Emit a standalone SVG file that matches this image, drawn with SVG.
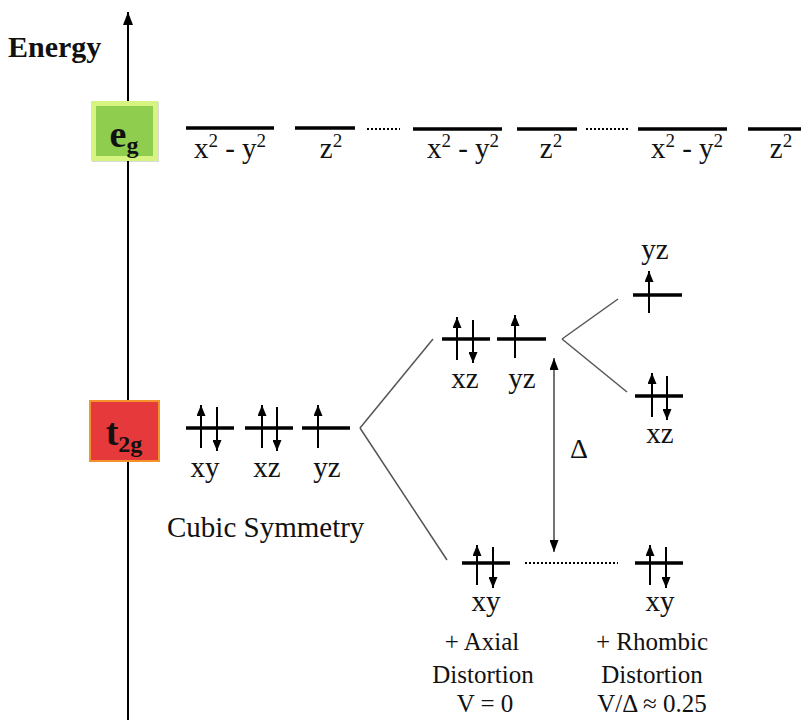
<svg xmlns="http://www.w3.org/2000/svg" width="801" height="720" viewBox="0 0 801 720" font-family="'Liberation Serif', 'Times New Roman', 'DejaVu Serif', serif">
<defs>
<style>
text{font-family:'Liberation Serif','Times New Roman','DejaVu Serif',serif;fill:#111;}
.lab{font-size:29px;text-anchor:middle;}
.sm{font-size:25px;text-anchor:middle;}
.sup{font-size:19px;}
.lvl{stroke:#000;stroke-width:3.5;fill:none;}
.spin{stroke:#000;stroke-width:2;fill:none;marker-end:url(#ah);}
.split{stroke:#555;stroke-width:1.5;fill:none;}
.dot{stroke:#000;stroke-width:2;stroke-dasharray:2 2;fill:none;}
</style>
<marker id="ah" viewBox="0 0 11 9" refX="11" refY="4.5" markerWidth="11" markerHeight="9" markerUnits="userSpaceOnUse" orient="auto">
<path d="M0,0 L11,4.5 L0,9 z" fill="#000"/>
</marker>
<marker id="ahd" viewBox="0 0 12 9" refX="12" refY="4.5" markerWidth="12" markerHeight="9" markerUnits="userSpaceOnUse" orient="auto">
<path d="M0,0 L12,4.5 L0,9 z" fill="#000"/>
</marker>
<marker id="ahaxis" viewBox="0 0 13 10" refX="13" refY="5" markerWidth="13" markerHeight="10" markerUnits="userSpaceOnUse" orient="auto">
<path d="M0,0 L13,5 L0,10 z" fill="#000"/>
</marker>
</defs>
<rect width="801" height="720" fill="#fff"/>

<g id="axis">
<line x1="128" y1="720" x2="128" y2="12" stroke="#000" stroke-width="2" marker-end="url(#ahaxis)"/>
<text x="8" y="57" font-size="30" font-weight="bold">Energy</text>
</g>

<g id="eg-box">
<rect x="92" y="102" width="67" height="60" fill="#000" opacity="0.15"/>
<rect x="91" y="101" width="67" height="60" fill="#d6f47f"/>
<rect x="96" y="106" width="57" height="50" fill="#8fcd4e"/>
<text x="124" y="147" font-size="38" font-weight="bold" text-anchor="middle">e<tspan font-size="24" dy="6">g</tspan></text>
</g>

<g id="t2g-box">
<rect x="91" y="402" width="69" height="60" fill="#000" opacity="0.15"/>
<rect x="90" y="401" width="69" height="60" fill="#e5393b" stroke="#f4922c" stroke-width="2"/>
<text x="124" y="445" font-size="38" font-weight="bold" text-anchor="middle">t<tspan font-size="24" dy="7">2g</tspan></text>
</g>

<g id="eg-levels">
<line class="lvl" x1="186" y1="128" x2="274" y2="128"/>
<text class="lab" x="230" y="158">x<tspan class="sup" dy="-11">2</tspan><tspan dy="11"> - y</tspan><tspan class="sup" dy="-11">2</tspan></text>
<line class="lvl" x1="295" y1="128" x2="355" y2="128"/>
<text class="lab" x="331" y="158">z<tspan class="sup" dy="-11">2</tspan></text>
<line class="lvl" x1="413" y1="129" x2="502" y2="129"/>
<text class="lab" x="463" y="158">x<tspan class="sup" dy="-11">2</tspan><tspan dy="11"> - y</tspan><tspan class="sup" dy="-11">2</tspan></text>
<line class="lvl" x1="517" y1="129" x2="577" y2="129"/>
<text class="lab" x="551" y="158">z<tspan class="sup" dy="-11">2</tspan></text>
<line class="lvl" x1="638" y1="129" x2="727" y2="129"/>
<text class="lab" x="687" y="158">x<tspan class="sup" dy="-11">2</tspan><tspan dy="11"> - y</tspan><tspan class="sup" dy="-11">2</tspan></text>
<line class="lvl" x1="748" y1="129" x2="801" y2="129"/>
<text class="lab" x="781" y="158">z<tspan class="sup" dy="-11">2</tspan></text>
</g>

<g id="cubic">
<line class="lvl" x1="186" y1="428" x2="234" y2="428"/>
<line class="spin" x1="201" y1="448" x2="201" y2="405"/>
<line class="spin" x1="217" y1="407" x2="217" y2="451"/>
<line class="lvl" x1="245" y1="428" x2="293" y2="428"/>
<line class="spin" x1="262" y1="448" x2="262" y2="405"/>
<line class="spin" x1="277" y1="407" x2="277" y2="451"/>
<line class="lvl" x1="302" y1="428" x2="350" y2="428"/>
<line class="spin" x1="318" y1="448" x2="318" y2="405"/>
<text class="lab" x="205" y="477">xy</text>
<text class="lab" x="267" y="477">xz</text>
<text class="lab" x="327" y="477">yz</text>
<text x="167" y="537" font-size="29">Cubic Symmetry</text>
</g>

<g id="axial">
<line class="lvl" x1="442" y1="339" x2="490" y2="339"/>
<line class="spin" x1="457" y1="360" x2="457" y2="317"/>
<line class="spin" x1="473" y1="320" x2="473" y2="363"/>
<line class="lvl" x1="497" y1="339" x2="546" y2="339"/>
<line class="spin" x1="515" y1="358" x2="515" y2="315"/>
<text class="lab" x="465" y="388">xz</text>
<text class="lab" x="522" y="388">yz</text>
<line class="lvl" x1="462" y1="563" x2="510" y2="563"/>
<line class="spin" x1="477" y1="585" x2="477" y2="545"/>
<line class="spin" x1="493" y1="547" x2="493" y2="588"/>
<text class="lab" x="486" y="611">xy</text>
<text class="sm" x="482" y="650">+ Axial</text>
<text class="sm" x="483" y="683">Distortion</text>
<text class="sm" x="485" y="712">V = 0</text>
</g>

<g id="rhombic">
<line class="lvl" x1="633" y1="295" x2="682" y2="295"/>
<line class="spin" x1="649" y1="313" x2="649" y2="271"/>
<text class="lab" x="655" y="259">yz</text>
<line class="lvl" x1="635" y1="396" x2="683" y2="396"/>
<line class="spin" x1="652" y1="417" x2="652" y2="373"/>
<line class="spin" x1="667" y1="376" x2="667" y2="420"/>
<text class="lab" x="660" y="443">xz</text>
<line class="lvl" x1="635" y1="563" x2="683" y2="563"/>
<line class="spin" x1="650" y1="585" x2="650" y2="545"/>
<line class="spin" x1="666" y1="547" x2="666" y2="588"/>
<text class="lab" x="660" y="611">xy</text>
<text class="sm" x="652" y="650">+ Rhombic</text>
<text class="sm" x="652" y="683">Distortion</text>
<text class="sm" x="652" y="712">V/Δ ≈ 0.25</text>
</g>

<g id="connectors">
<line class="dot" x1="367" y1="129" x2="400" y2="129"/>
<line class="dot" x1="586" y1="129" x2="630" y2="129"/>
<line class="split" x1="360" y1="428" x2="433" y2="339"/>
<line class="split" x1="360" y1="428" x2="447" y2="560"/>
<line class="split" x1="562" y1="339" x2="618" y2="299"/>
<line class="split" x1="562" y1="339" x2="627" y2="392"/>
<line class="dot" x1="525" y1="563" x2="618" y2="563"/>
<line x1="554" y1="455" x2="554" y2="358" stroke="#444" stroke-width="1.5" marker-end="url(#ahd)"/>
<line x1="554" y1="455" x2="554" y2="552" stroke="#444" stroke-width="1.5" marker-end="url(#ahd)"/>
<text x="579" y="458" font-size="28" text-anchor="middle">Δ</text>
</g>
</svg>
